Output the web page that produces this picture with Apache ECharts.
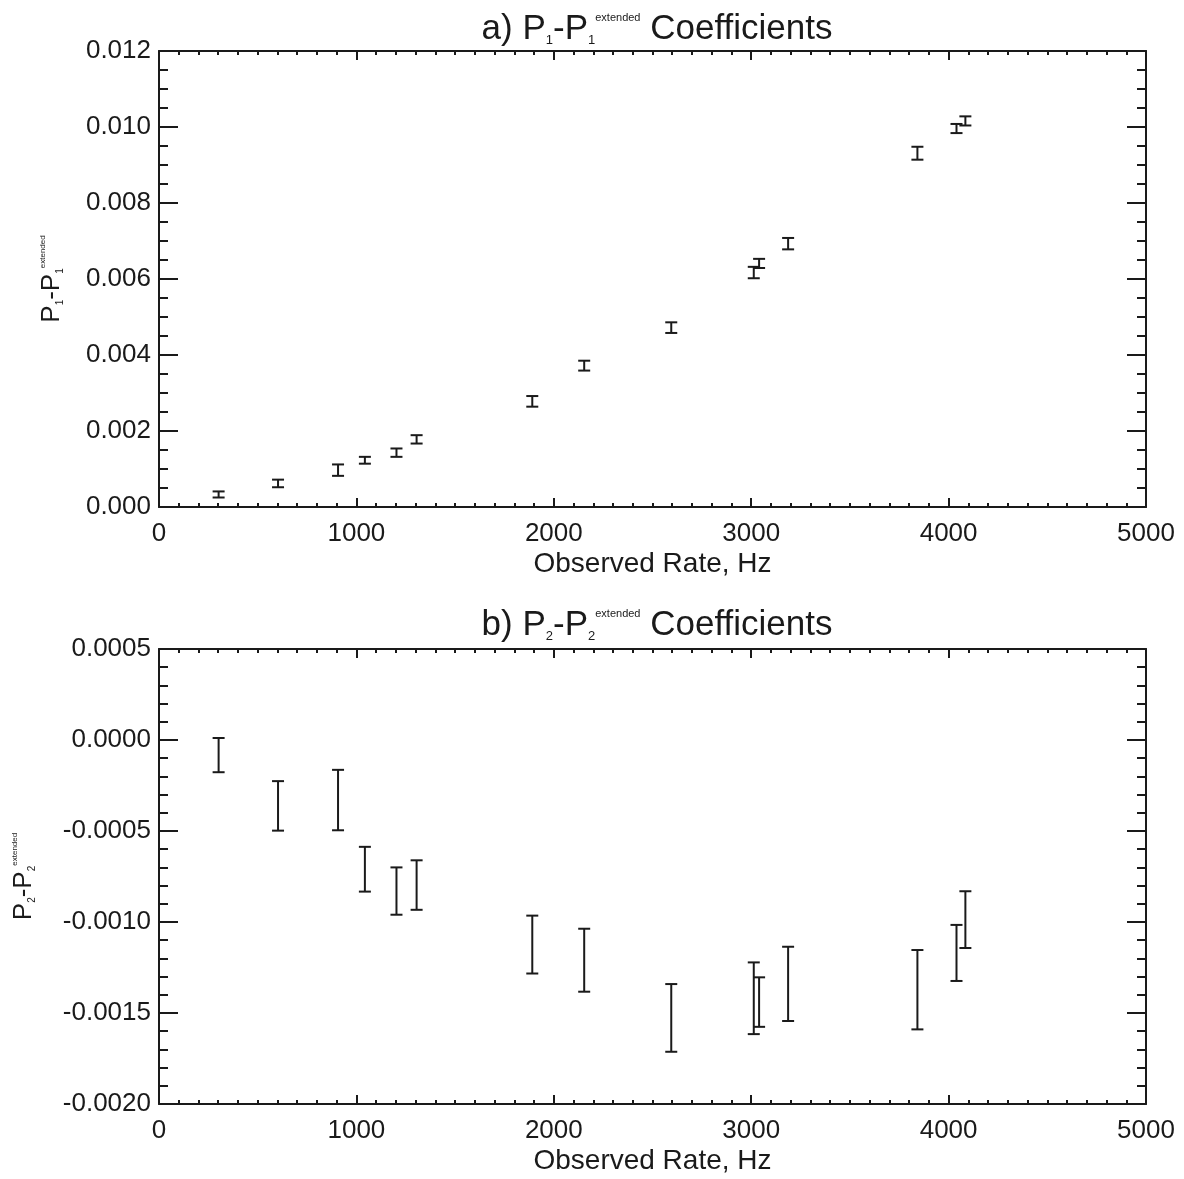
<!DOCTYPE html>
<html>
<head>
<meta charset="utf-8">
<script src="https://cdn.jsdelivr.net/npm/echarts@6/dist/echarts.min.js"></script>
<style>
html,body{margin:0;padding:0;background:#fff;}
#chart{width:1184px;height:1179px;}
</style>
</head>
<body>
<div id="chart"></div>
<script>
// Observed rates (Hz), shared by both panels
const rates = [302, 603, 907, 1043, 1203, 1305, 1891, 2154, 2595, 3013, 3040, 3187, 3842, 4040, 4085];
// Panel a: P1 - P1^extended and its uncertainty
const p1Diff = [0.00033, 0.00062, 0.00097, 0.00123, 0.00143, 0.00178, 0.00278, 0.00372, 0.00472, 0.00617, 0.00641, 0.00693, 0.00931, 0.00996, 0.01016];
const p1Err  = [0.00008, 0.00010, 0.00015, 0.00009, 0.00011, 0.00011, 0.00014, 0.00013, 0.00014, 0.00015, 0.00012, 0.00015, 0.00017, 0.00012, 0.00012];
// Panel b: P2 - P2^extended and its uncertainty
const p2Diff = [-0.000083, -0.000362, -0.00033, -0.00071, -0.00083, -0.000797, -0.001124, -0.00121, -0.001527, -0.001419, -0.00144, -0.00134, -0.001372, -0.00117, -0.000987];
const p2Err  = [0.000094, 0.000136, 0.000166, 0.000123, 0.00013, 0.000136, 0.000159, 0.000173, 0.000186, 0.000197, 0.000136, 0.000204, 0.000218, 0.000154, 0.000156];

const FONT = '"Liberation Sans", Arial, Helvetica, sans-serif';
const INK = '#1a1a1a';

const dataA = rates.map((r, i) => [r, p1Diff[i], p1Err[i]]);
const dataB = rates.map((r, i) => [r, p2Diff[i], p2Err[i]]);

function errRender(params, api) {
  const x = api.value(0), v = api.value(1), e = api.value(2);
  const t = api.coord([x, v + e]);
  const b = api.coord([x, v - e]);
  const w = 6;
  const st = {stroke: INK, lineWidth: 2};
  return {type: 'group', children: [
    {type: 'line', shape: {x1: t[0], y1: t[1], x2: b[0], y2: b[1]}, style: st},
    {type: 'line', shape: {x1: t[0] - w, y1: t[1], x2: t[0] + w, y2: t[1]}, style: st},
    {type: 'line', shape: {x1: b[0] - w, y1: b[1], x2: b[0] + w, y2: b[1]}, style: st}
  ]};
}

function xAx(grid, isTop, showName) {
  return {
    type: 'value', gridIndex: grid, position: isTop ? 'top' : 'bottom',
    min: 0, max: 5000, interval: 1000,
    axisLine: {show: true, onZero: false, lineStyle: {color: INK, width: 2}},
    axisTick: {show: true, inside: true, length: 9, lineStyle: {color: INK, width: 2}},
    minorTick: {show: true, splitNumber: 10, length: 4, lineStyle: {color: INK, width: 2}},
    splitLine: {show: false},
    axisLabel: {show: !isTop, color: INK, fontFamily: FONT, fontSize: 26, margin: 14,
      formatter: v => String(Math.round(v))},
    name: showName ? 'Observed Rate, Hz' : '',
    nameLocation: 'middle', nameGap: 43,
    nameTextStyle: {color: INK, fontFamily: FONT, fontSize: 28}
  };
}

function yAx(grid, isRight, min, max, interval, minorSplit, decimals, nameText, nameGap) {
  return {
    type: 'value', gridIndex: grid, position: isRight ? 'right' : 'left',
    min: min, max: max, interval: interval,
    axisLine: {show: true, onZero: false, lineStyle: {color: INK, width: 2}},
    axisTick: {show: true, inside: true, length: 19, lineStyle: {color: INK, width: 2}},
    minorTick: {show: true, splitNumber: minorSplit, length: 9, lineStyle: {color: INK, width: 2}},
    splitLine: {show: false},
    axisLabel: {show: !isRight, color: INK, fontFamily: FONT, fontSize: 26, margin: 8,
      formatter: v => (Math.abs(v) < 1e-12 ? 0 : v).toFixed(decimals)},
    name: isRight ? '' : nameText,
    nameLocation: 'middle', nameGap: nameGap, nameRotate: 90,
    nameTextStyle: {color: INK, fontFamily: FONT, fontSize: 26, rich: {
      sub: {fontSize: 10, fontFamily: FONT, color: INK, verticalAlign: 'bottom'},
      sup: {fontSize: 8, fontFamily: FONT, color: INK, verticalAlign: 'top'}
    }}
  };
}

const titleRich = {
  sub: {fontSize: 13, fontFamily: FONT, color: INK, verticalAlign: 'bottom'},
  sup: {fontSize: 11, fontFamily: FONT, color: INK, verticalAlign: 'top'}
};

const option = {
  backgroundColor: '#ffffff',
  animation: false,
  title: [
    {text: 'a) P{sub|1}-P{sub|1}{sup|extended} Coefficients', left: 652, top: 7, textAlign: 'center',
     textStyle: {color: INK, fontFamily: FONT, fontSize: 35, fontWeight: 'normal', rich: titleRich}},
    {text: 'b) P{sub|2}-P{sub|2}{sup|extended} Coefficients', left: 652, top: 603, textAlign: 'center',
     textStyle: {color: INK, fontFamily: FONT, fontSize: 35, fontWeight: 'normal', rich: titleRich}}
  ],
  grid: [
    {left: 159, top: 51, width: 987, height: 456, containLabel: false},
    {left: 159, top: 649, width: 987, height: 455, containLabel: false}
  ],
  xAxis: [xAx(0, false, true), xAx(0, true, false), xAx(1, false, true), xAx(1, true, false)],
  yAxis: [
    yAx(0, false, 0, 0.012, 0.002, 4, 3, 'P{sub|1}-P{sub|1}{sup|extended}', 94),
    yAx(0, true, 0, 0.012, 0.002, 4, 3, '', 0),
    yAx(1, false, -0.002, 0.0005, 0.0005, 5, 4, 'P{sub|2}-P{sub|2}{sup|extended}', 122),
    yAx(1, true, -0.002, 0.0005, 0.0005, 5, 4, '', 0)
  ],
  series: [
    {type: 'custom', xAxisIndex: 0, yAxisIndex: 0, data: dataA, renderItem: errRender,
     encode: {x: 0, y: 1}, clip: false},
    {type: 'custom', xAxisIndex: 2, yAxisIndex: 2, data: dataB, renderItem: errRender,
     encode: {x: 0, y: 1}, clip: false}
  ]
};

const chart = echarts.init(document.getElementById('chart'), null, {renderer: 'canvas'});
chart.setOption(option);
</script>
</body>
</html>
